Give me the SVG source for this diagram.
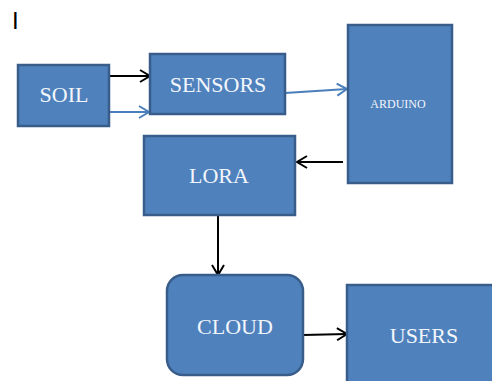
<svg xmlns="http://www.w3.org/2000/svg" width="492" height="381" viewBox="0 0 492 381">
<style>
.box{fill:#4f81bd;stroke:#385d8a;stroke-width:2.5}
.lbl{font-family:"Liberation Serif","Times New Roman",serif;fill:#f2f6fb;text-anchor:middle}
.k{stroke:#000;stroke-width:2;fill:none}
.b{stroke:#4a7ebb;stroke-width:2;fill:none}
</style>
<defs>
<marker id="ak" markerUnits="userSpaceOnUse" markerWidth="14" markerHeight="16" refX="11" refY="7" orient="auto" overflow="visible">
<path d="M1,1 L11,7 L1,13" fill="none" stroke="#000" stroke-width="2"/>
</marker>
<marker id="ab" markerUnits="userSpaceOnUse" markerWidth="14" markerHeight="16" refX="11" refY="7" orient="auto" overflow="visible">
<path d="M1,1 L11,7 L1,13" fill="none" stroke="#4a7ebb" stroke-width="2"/>
</marker>
</defs>
<rect width="492" height="381" fill="#fff"/>
<text x="12" y="29" font-family="Liberation Sans, Arial, sans-serif" font-size="24" fill="#000">I</text>
<g id="connectors">
<line class="k" x1="109" y1="76" x2="150" y2="76" marker-end="url(#ak)"/>
<line class="b" x1="109" y1="112" x2="149" y2="112" marker-end="url(#ab)"/>
<line class="b" x1="285" y1="93" x2="347" y2="89" marker-end="url(#ab)"/>
<line class="k" x1="343" y1="162" x2="297" y2="162" marker-end="url(#ak)"/>
<line class="k" x1="218" y1="215" x2="218" y2="275" marker-end="url(#ak)"/>
<line class="k" x1="303" y1="335" x2="347" y2="334" marker-end="url(#ak)"/>
</g>
<g id="soil">
<rect class="box" x="18" y="65" width="91" height="61"/>
<text class="lbl" x="64" y="102" font-size="22">SOIL</text>
</g>
<g id="sensors">
<rect class="box" x="150" y="54" width="135" height="60"/>
<text class="lbl" x="218" y="92" font-size="22">SENSORS</text>
</g>
<g id="arduino">
<rect class="box" x="348" y="25" width="104" height="158"/>
<text class="lbl" x="398" y="108" font-size="12">ARDUINO</text>
</g>
<g id="lora">
<rect class="box" x="144" y="136" width="151" height="79"/>
<text class="lbl" x="219" y="183" font-size="22">LORA</text>
</g>
<g id="cloud">
<rect class="box" x="167" y="275" width="136" height="100" rx="16" ry="16"/>
<text class="lbl" x="235" y="334" font-size="22">CLOUD</text>
</g>
<g id="users">
<rect class="box" x="347" y="285" width="150" height="100"/>
<text class="lbl" x="424" y="343" font-size="22">USERS</text>
</g>
</svg>
